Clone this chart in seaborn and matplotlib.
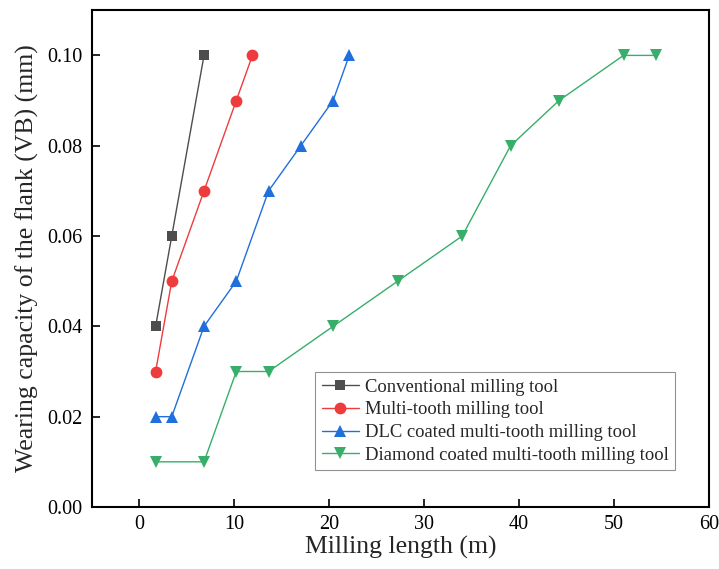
import matplotlib
matplotlib.use("Agg")
import matplotlib.pyplot as plt
import seaborn as sns
import pandas as pd

# Milling length (m) and flank wear VB (mm) for each tool
conv_len = [1.7, 3.4, 6.8]
conv_vb = [0.04, 0.06, 0.10]

multi_len = [1.7, 3.4, 6.8, 10.2, 11.9]
multi_vb = [0.03, 0.05, 0.07, 0.09, 0.10]

dlc_len = [1.7, 3.4, 6.8, 10.2, 13.6, 17.0, 20.4, 22.1]
dlc_vb = [0.02, 0.02, 0.04, 0.05, 0.07, 0.08, 0.09, 0.10]

dia_len = [1.7, 6.8, 10.2, 13.6, 20.4, 27.2, 34.0, 39.1, 44.2, 51.0, 54.4]
dia_vb = [0.01, 0.01, 0.03, 0.03, 0.04, 0.05, 0.06, 0.08, 0.09, 0.10, 0.10]

labels = [
    "Conventional milling tool",
    "Multi-tooth milling tool",
    "DLC coated multi-tooth milling tool",
    "Diamond coated multi-tooth milling tool",
]
x_ticks = [0, 10, 20, 30, 40, 50, 60]
y_ticks = [0.00, 0.02, 0.04, 0.06, 0.08, 0.10]

sns.set_theme(style="ticks")
plt.rcParams["font.family"] = ["Liberation Serif", "DejaVu Serif"]

fig = plt.figure(figsize=(7.19, 5.69), dpi=100)
ax = fig.add_axes([0.128, 0.109, 0.858, 0.873])

series = [
    (conv_len, conv_vb, "s", "#4d4d4d", 7.5),
    (multi_len, multi_vb, "o", "#ee3c3c", 8.5),
    (dlc_len, dlc_vb, "^", "#1f6fdc", 9),
    (dia_len, dia_vb, "v", "#37ae6a", 9),
]

for (xs, ys, mk, col, ms), lab in zip(series, labels):
    df = pd.DataFrame({"length": xs, "vb": ys})
    sns.lineplot(data=df, x="length", y="vb", ax=ax, estimator=None, sort=False,
                 marker=mk, markersize=ms, markeredgewidth=0, color=col,
                 linewidth=1.0, label=lab)

ax.set_xlim(-5, 60)
ax.set_ylim(0, 0.11)
ax.set_xticks(x_ticks)
ax.set_xticklabels([str(v) for v in x_ticks])
ax.set_yticks(y_ticks)
ax.set_yticklabels([f"{v:.2f}" for v in y_ticks])

ax.tick_params(axis="both", direction="in", length=6, width=1.2,
               labelsize=14.5, colors="black", top=False, right=False)
ax.tick_params(axis="x", pad=6)
ax.tick_params(axis="y", pad=7)
for sp in ax.spines.values():
    sp.set_visible(True)
    sp.set_color("black")
    sp.set_linewidth(1.5)

ax.set_xlabel("Milling length (m)", fontsize=18.5, labelpad=1)
ax.set_ylabel("Wearing capacity of the flank (VB) (mm)", fontsize=18.5, labelpad=6)

leg = ax.legend(loc="lower right", bbox_to_anchor=(0.945, 0.074), borderaxespad=0,
                fontsize=13.4, frameon=True, fancybox=False, handlelength=2.0,
                handletextpad=0.3, labelspacing=0.3, borderpad=0.35)
leg.get_frame().set_edgecolor("#777777")
leg.get_frame().set_linewidth(0.8)

fig.savefig("out.png", dpi=100, facecolor="white")
